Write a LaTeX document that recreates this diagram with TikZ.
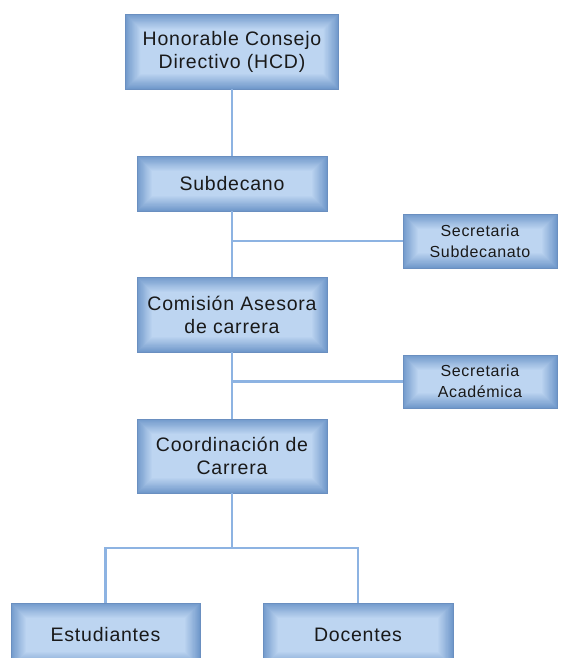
\documentclass[tikz,border=0pt]{standalone}
\usepackage{fontspec}
\setmainfont{Liberation Sans}[LetterSpace=4]
\definecolor{boxedge}{HTML}{7199CB}
\definecolor{boxcenter}{HTML}{BDD5F1}
\definecolor{boxline}{HTML}{6A8FC0}
\definecolor{linkcol}{HTML}{8DB3E2}
\tikzset{
  orgbox/.style={
    draw=boxline, line width=0.7pt, fill=boxedge,
    align=center, inner sep=0pt, text=black!90,
    path picture={
      \foreach \k in {1,...,28}{
        \pgfmathtruncatemacro\pc{100-\k*3.6}
        \fill[boxedge!\pc!boxcenter]
          ([shift={(\k*0.55pt,\k*0.55pt)}]path picture bounding box.south west)
          rectangle
          ([shift={(-\k*0.55pt,-\k*0.55pt)}]path picture bounding box.north east);
      }
    }
  },
  mainbox/.style={orgbox, font=\fontsize{19.5}{23}\selectfont},
  sidebox/.style={orgbox, font=\fontsize{16}{21}\selectfont,
    minimum width=154pt},
  link/.style={draw=linkcol, line width=2.1pt}
}
\begin{document}
\begin{tikzpicture}[x=1pt,y=-1pt]
  \clip (0,0) rectangle (560,658);
  \fill[white] (0,0) rectangle (560,658);

  % main chain of boxes
  \node[mainbox, minimum width=213pt, minimum height=75pt] (hcd) at (232,51.5)
    {Honorable Consejo\\Directivo (HCD)};
  \node[mainbox, minimum width=190pt, minimum height=55pt] (sub) at (232,183.5)
    {Subdecano};
  \node[mainbox, minimum width=190pt, minimum height=75pt] (com) at (232,314.5)
    {Comisión Asesora\\de carrera};
  \node[mainbox, minimum width=190pt, minimum height=74pt] (coord) at (232,456)
    {Coordinación de\\Carrera};

  % side offices
  \node[sidebox, minimum height=54pt] (secsub) at (480,241)
    {Secretaria\\Subdecanato};
  \node[sidebox, minimum height=53pt] (secac) at (480,381.5)
    {Secretaria\\Académica};

  % bottom level
  \node[mainbox, minimum width=189pt, minimum height=64pt] (est) at (105.5,635)
    {Estudiantes};
  \node[mainbox, minimum width=190pt, minimum height=64pt] (doc) at (358,635)
    {Docentes};

  % connectors
  \draw[link] (hcd.south) -- (sub.north);
  \draw[link] (sub.south) -- (com.north);
  \draw[link] (com.south) -- (coord.north);
  \draw[link] (secsub.west) -- (secsub.west -| sub.south);
  \draw[link] (secac.west) -- (secac.west -| com.south);
  \draw[link] (coord.south) -- ++(0,55) coordinate (split);
  \draw[link] (est.north) |- (split) -| (doc.north);
\end{tikzpicture}
\end{document}
